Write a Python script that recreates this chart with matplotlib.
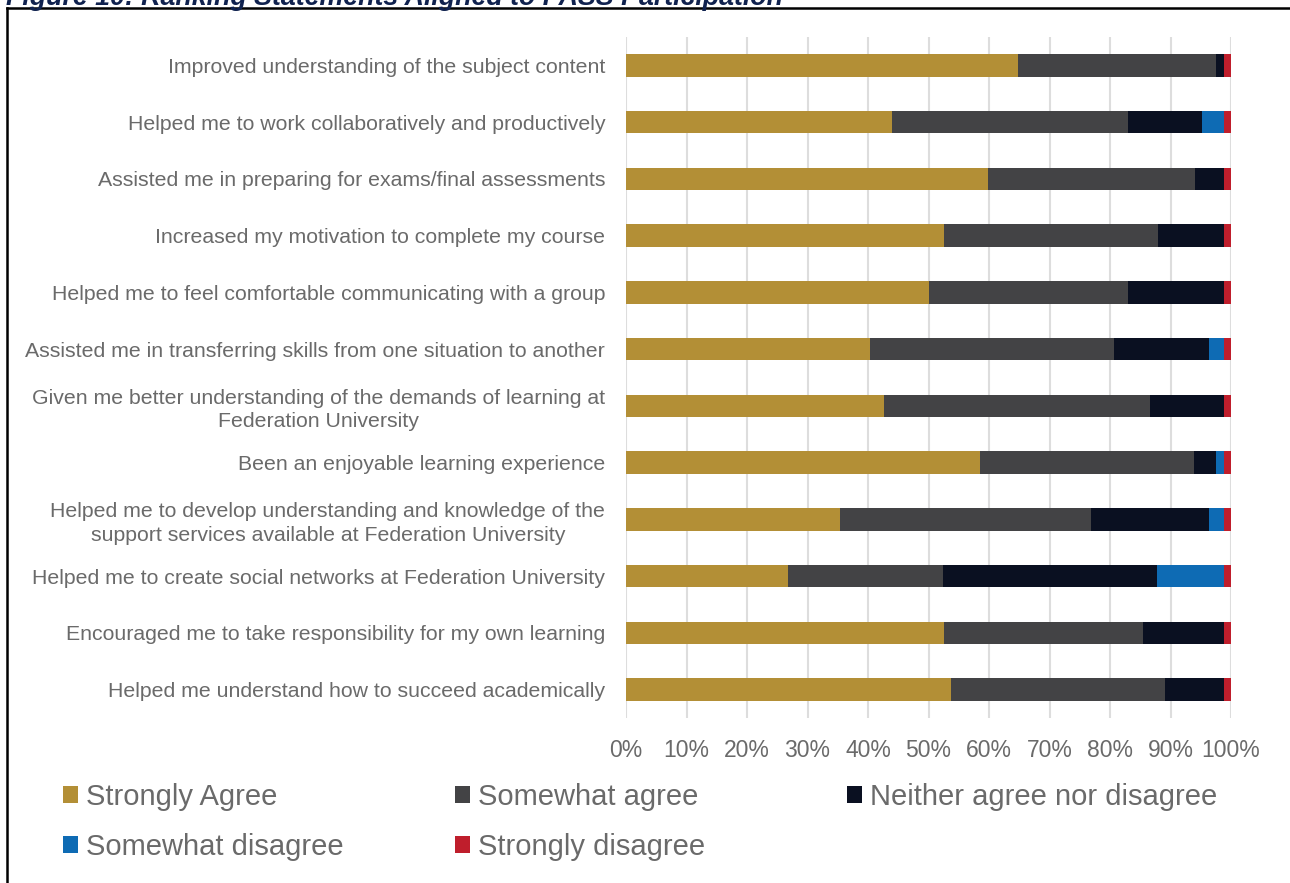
import numpy as np
import matplotlib.pyplot as plt
from matplotlib.lines import Line2D
from matplotlib.patches import Patch

plt.rcParams['font.family'] = ['Liberation Sans', 'DejaVu Sans']

statements = [
    "Improved understanding of the subject content",
    "Helped me to work collaboratively and productively",
    "Assisted me in preparing for exams/final assessments",
    "Increased my motivation to complete my course",
    "Helped me to feel comfortable communicating with a group",
    "Assisted me in transferring skills from one situation to another",
    "Given me better understanding of the demands of learning at\nFederation University",
    "Been an enjoyable learning experience",
    "Helped me to develop understanding and knowledge of the\nsupport services available at Federation University",
    "Helped me to create social networks at Federation University",
    "Encouraged me to take responsibility for my own learning",
    "Helped me understand how to succeed academically",
]

# percentage of responses per statement
strongly_agree = [64.8, 44.0, 59.8, 52.5, 50.0, 40.3, 42.7, 58.5, 35.4, 26.8, 52.5, 53.7]
somewhat_agree = [32.8, 39.0, 34.2, 35.4, 33.0, 40.4, 43.9, 35.4, 41.5, 25.6, 32.9, 35.4]
neither = [1.2, 12.2, 4.8, 10.9, 15.8, 15.7, 12.2, 3.6, 19.5, 35.4, 13.4, 9.7]
somewhat_disagree = [0.0, 3.6, 0.0, 0.0, 0.0, 2.4, 0.0, 1.3, 2.4, 11.0, 0.0, 0.0]
strongly_disagree = [1.2, 1.2, 1.2, 1.2, 1.2, 1.2, 1.2, 1.2, 1.2, 1.2, 1.2, 1.2]

series = [
    ("Strongly Agree", strongly_agree, "#B38F36"),
    ("Somewhat agree", somewhat_agree, "#434345"),
    ("Neither agree nor disagree", neither, "#0A1021"),
    ("Somewhat disagree", somewhat_disagree, "#0E6BB4"),
    ("Strongly disagree", strongly_disagree, "#BF1E2C"),
]

W, H = 1290, 883
fig = plt.figure(figsize=(W / 100, H / 100), dpi=100)
ax = fig.add_axes([626 / W, 1 - 718 / H, 605 / W, 681 / H])

y = np.arange(len(statements))
left = np.zeros(len(statements))
for name, vals, col in series:
    vals = np.array(vals)
    ax.barh(y, vals, left=left, height=0.4, color=col, edgecolor="none", zorder=3)
    left += vals

ax.set_xlim(0, 100)
ax.set_ylim(len(statements) - 0.5, -0.5)
ax.set_xticks(np.arange(0, 101, 10))
ax.set_xticklabels([f"{v}%" for v in range(0, 101, 10)], fontsize=16.5, color="#6A6A6A")
ax.set_yticks(y)
ax.set_yticklabels(statements, fontsize=15.3, color="#6A6A6A",
                   multialignment="center", linespacing=1.3)
ax.tick_params(length=0)
ax.tick_params(axis="x", pad=15)
ax.tick_params(axis="y", pad=15)
ax.grid(axis="x", color="#DDDDDD", linewidth=1.5, zorder=0)
for s in ax.spines.values():
    s.set_visible(False)

# legend laid out row by row, three per row
for i, (name, _, col) in enumerate(series):
    row, c = divmod(i, 3)
    x0 = (63 + 392 * c) / W
    y0 = 1 - (797 + 50 * row) / H
    leg = fig.legend([Patch(facecolor=col, edgecolor="none")], [name],
                     loc="center left", bbox_to_anchor=(x0, y0), frameon=False,
                     fontsize=21, handlelength=0.5, handleheight=0.5,
                     handletextpad=0.3, borderpad=0, borderaxespad=0)
    for t in leg.get_texts():
        t.set_color("#6A6A6A")

# caption above the frame, clipped by the top edge
fig.text(6 / W, 1 - 5 / H, "Figure 10: Ranking Statements Aligned to PASS Participation",
         fontsize=19.3, fontweight="bold", fontstyle="italic", color="#10224F",
         va="baseline", ha="left")

# frame around the chart
fig.add_artist(Line2D([7 / W, 1], [1 - 8 / H, 1 - 8 / H], color="black", linewidth=1.8))
fig.add_artist(Line2D([7 / W, 7 / W], [0, 1 - 8 / H], color="black", linewidth=1.8))

fig.savefig("out.png", dpi=100)
